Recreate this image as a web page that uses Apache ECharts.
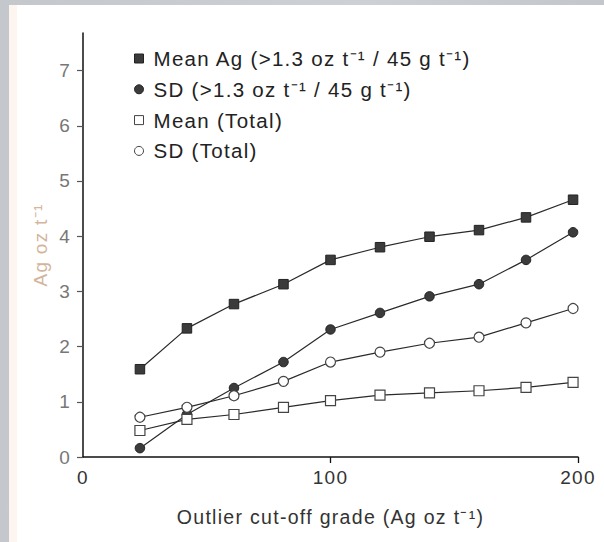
<!DOCTYPE html>
<html>
<head>
<meta charset="utf-8">
<script src="https://cdn.jsdelivr.net/npm/echarts@6/dist/echarts.min.js"></script>
<style>
  html, body { margin: 0; padding: 0; }
  body { width: 604px; height: 542px; background: linear-gradient(90deg, #c4c8cc, #cdd1d5 60%, #c3c7cb); position: relative; overflow: hidden; }
  #frame { position: absolute; left: 9px; top: 5px; right: 0; bottom: 0; background: #ffffff; }
  #strip { position: absolute; left: 9px; top: 5px; width: 8px; bottom: 0; background: #fdf6f0; }
  #chart { position: absolute; left: 0; top: 0; width: 604px; height: 542px; }
  #chart svg text { letter-spacing: 1.3px; }
</style>
</head>
<body>
<div id="frame"></div>
<div id="strip"></div>
<div id="chart"></div>
<script>
// Outlier cut-off grades (Ag oz t-1)
const cutoffs = [23, 42, 61, 81, 100, 120, 140, 160, 179, 198];
// Series values (Ag oz t-1)
const meanAg  = [1.59, 2.33, 2.77, 3.13, 3.57, 3.80, 3.99, 4.11, 4.34, 4.66];
const sdAg    = [0.16, 0.77, 1.25, 1.72, 2.31, 2.61, 2.91, 3.13, 3.57, 4.07];
const meanTot = [0.48, 0.68, 0.77, 0.90, 1.02, 1.12, 1.16, 1.20, 1.26, 1.35];
const sdTot   = [0.72, 0.90, 1.11, 1.37, 1.72, 1.90, 2.06, 2.17, 2.43, 2.69];
// Tick labels
const yTicks = [0, 1, 2, 3, 4, 5, 6, 7];
const xTicks = [0, 100, 200];
const names = [
  'Mean Ag (>1.3 oz t\u207B\u00B9 / 45 g t\u207B\u00B9)',
  'SD (>1.3 oz t\u207B\u00B9 / 45 g t\u207B\u00B9)',
  'Mean (Total)',
  'SD (Total)'
];

const pair = (xs, ys) => xs.map((x, i) => [x, ys[i]]);
const dark = '#3b3b3b';
const font = 'Liberation Sans, Arial, Helvetica, sans-serif';

function mk(name, vals, symbol, filled) {
  return {
    name: name,
    type: 'line',
    data: pair(cutoffs, vals),
    symbol: symbol,
    symbolSize: filled ? 9.5 : 10,
    showAllSymbol: true,
    lineStyle: { color: '#2a2a2a', width: 1.2 },
    itemStyle: filled
      ? { color: dark, borderColor: '#222', borderWidth: 1 }
      : { color: '#ffffff', borderColor: '#444', borderWidth: 1.2 },
    emphasis: { disabled: true },
    z: filled ? 3 : 4
  };
}

const chart = echarts.init(document.getElementById('chart'), null, { renderer: 'svg' });
chart.setOption({
  backgroundColor: 'transparent',
  animation: false,
  textStyle: { fontFamily: font },
  grid: { left: 83, right: 26, top: 33, bottom: 85 },
  legend: {
    orient: 'vertical',
    left: 129,
    top: 43,
    itemWidth: 9,
    itemHeight: 9,
    itemGap: 9.8,
    textStyle: { fontSize: 20.5, color: '#222', fontFamily: font, padding: [0, 0, 0, 5] },
    data: [
      { name: names[0], icon: 'rect', itemStyle: { color: dark, borderColor: '#222', borderWidth: 1 } },
      { name: names[1], icon: 'circle', itemStyle: { color: dark, borderColor: '#222', borderWidth: 1 } },
      { name: names[2], icon: 'rect', itemStyle: { color: '#fff', borderColor: '#444', borderWidth: 1 } },
      { name: names[3], icon: 'circle', itemStyle: { color: '#fff', borderColor: '#444', borderWidth: 1 } }
    ]
  },
  xAxis: {
    type: 'value',
    min: 0,
    max: 200,
    interval: 100,
    name: 'Outlier cut-off grade (Ag oz t\u207B\u00B9)',
    nameLocation: 'middle',
    nameGap: 50,
    nameTextStyle: { fontSize: 19.5, color: '#333', fontFamily: font },
    splitLine: { show: false },
    axisLine: { lineStyle: { color: '#111', width: 1.5 } },
    axisTick: { show: true, length: 6, lineStyle: { color: '#111', width: 1.3 }, customValues: [100, 200] },
    axisLabel: { fontSize: 19, color: '#333', margin: 11, customValues: xTicks }
  },
  yAxis: {
    type: 'value',
    min: 0,
    max: 7.68,
    interval: 1,
    name: 'Ag oz t\u207B\u00B9',
    nameLocation: 'middle',
    nameGap: 27,
    nameRotate: 90,
    nameTextStyle: { fontSize: 19, color: '#d2b59c', fontFamily: font },
    splitLine: { show: false },
    axisLine: { show: true, lineStyle: { color: '#111', width: 1.5 } },
    axisTick: { show: true, length: 6, lineStyle: { color: '#555', width: 1.2 }, customValues: yTicks },
    axisLabel: { fontSize: 19, color: '#777', margin: 12, customValues: yTicks }
  },
  series: [
    mk(names[0], meanAg, 'rect', true),
    mk(names[1], sdAg, 'circle', true),
    mk(names[2], meanTot, 'rect', false),
    mk(names[3], sdTot, 'circle', false)
  ]
});
</script>
</body>
</html>
